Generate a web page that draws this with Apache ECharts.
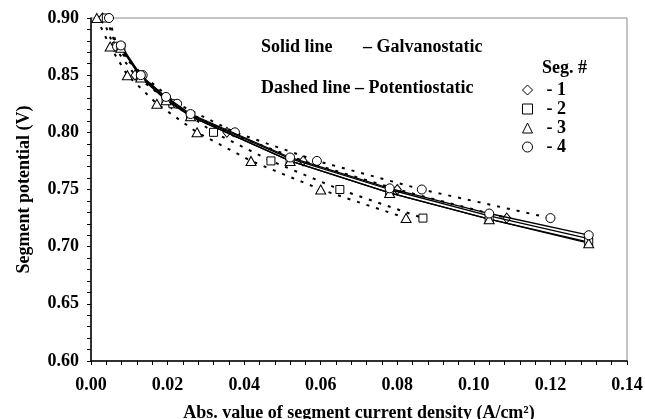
<!DOCTYPE html>
<html>
<head>
<meta charset="utf-8">
<script src="https://cdn.jsdelivr.net/npm/echarts@6/dist/echarts.min.js"></script>
<style>
  html, body { margin: 0; padding: 0; background: #fff; }
  #chart { width: 645px; height: 419px; }
</style>
</head>
<body>
<div id="chart"></div>
<script>
// galvanostatic runs (solid lines): fixed current, measured potential
var galvCurrent = [0.0078, 0.013, 0.0196, 0.026, 0.052, 0.078, 0.104, 0.130];
var galvSeg1 = [0.875, 0.849, 0.830, 0.815, 0.777, 0.750, 0.727, 0.707];
var galvSeg2 = [0.875, 0.848, 0.829, 0.814, 0.775, 0.747, 0.724, 0.704];
var galvSeg3 = [0.874, 0.848, 0.828, 0.814, 0.775, 0.747, 0.724, 0.703];
var galvSeg4 = [0.876, 0.850, 0.831, 0.816, 0.778, 0.751, 0.729, 0.710];

// potentiostatic runs (dashed lines): fixed potential, measured current
var potPotential = [0.900, 0.875, 0.850, 0.825, 0.800, 0.775, 0.750, 0.725];
var potSeg1 = [0.0030, 0.0060, 0.0115, 0.0210, 0.0355, 0.0554, 0.0800, 0.1086];
var potSeg2 = [0.0040, 0.0066, 0.0130, 0.0214, 0.0320, 0.0470, 0.0650, 0.0867];
var potSeg3 = [0.0015, 0.0050, 0.0095, 0.0172, 0.0277, 0.0418, 0.0600, 0.0823];
var potSeg4 = [0.0047, 0.0068, 0.0135, 0.0225, 0.0376, 0.0590, 0.0864, 0.1200];

var segNames = ['- 1', '- 2', '- 3', '- 4'];
var segSymbols = ['diamond', 'rect', 'triangle', 'circle'];
var segSizes = [[8, 10], 8, [10, 9], 9];

var FONT = 'Liberation Serif';

function pairs(xs, ys) {
	var res = [];
	for (var i = 0; i < xs.length; i++) res.push([xs[i], ys[i]]);
	return res;
}

var galvData = [galvSeg1, galvSeg2, galvSeg3, galvSeg4];
var potData = [potSeg1, potSeg2, potSeg3, potSeg4];

var series = [];
for (var s = 0; s < 4; s++) {
	// dashed: potentiostatic
	series.push({
		name: segNames[s],
		type: 'line',
		data: pairs(potData[s], potPotential),
		symbol: segSymbols[s],
		symbolSize: segSizes[s],
		clip: false,
		lineStyle: { color: '#000', width: 2, type: [3, 7] },
		itemStyle: { color: '#fff', borderColor: '#000', borderWidth: 1 },
		z: 2
	});
	// solid: galvanostatic
	series.push({
		name: segNames[s],
		type: 'line',
		data: pairs(galvCurrent, galvData[s]),
		symbol: segSymbols[s],
		symbolSize: segSizes[s],
		clip: false,
		lineStyle: { color: '#000', width: 1.3 },
		itemStyle: { color: '#fff', borderColor: '#000', borderWidth: 1 },
		z: 3
	});
}

var chart = echarts.init(document.getElementById('chart'));
var option = {
	animation: false,
	backgroundColor: '#fff',
	grid: {
		left: 91, top: 18, right: 18, bottom: 58,
		outerBoundsMode: 'none',
		show: true, borderColor: '#888', borderWidth: 1
	},
	xAxis: {
		type: 'value',
		min: 0, max: 0.14, interval: 0.02,
		name: 'Abs. value of segment current density (A/cm²)',
		nameLocation: 'middle',
		nameGap: 43,
		nameTextStyle: { fontFamily: FONT, fontWeight: 'bold', fontSize: 18, color: '#000' },
		axisLine: { lineStyle: { color: '#000', width: 1.5 } },
		axisTick: { length: 4, lineStyle: { color: '#000' } },
		minorTick: { show: true, splitNumber: 5, length: 4, lineStyle: { color: '#000' } },
		splitLine: { show: false },
		axisLabel: {
			margin: 15,
			fontFamily: FONT, fontWeight: 'bold', fontSize: 18, color: '#000',
			formatter: function (v) { return v.toFixed(2); }
		}
	},
	yAxis: {
		type: 'value',
		min: 0.6, max: 0.9, interval: 0.05,
		name: 'Segment potential (V)',
		nameLocation: 'middle',
		nameGap: 58,
		nameTextStyle: { fontFamily: FONT, fontWeight: 'bold', fontSize: 18, color: '#000' },
		axisLine: { lineStyle: { color: '#000', width: 1.5 } },
		axisTick: { length: 4, lineStyle: { color: '#000' } },
		minorTick: { show: true, splitNumber: 5, length: 4, lineStyle: { color: '#000' } },
		splitLine: { show: false },
		axisLabel: {
			margin: 12,
			fontFamily: FONT, fontWeight: 'bold', fontSize: 18, color: '#000',
			formatter: function (v) { return v.toFixed(2); }
		}
	},
	legend: {
		orient: 'vertical',
		left: 517, top: 76,
		itemWidth: 10, itemHeight: 10, itemGap: 1,
		data: segNames.map(function (n, i) { return { name: n, icon: segSymbols[i] }; }),
		itemStyle: { color: '#fff', borderColor: '#000', borderWidth: 1 },
		formatter: function (n) { return '  ' + n; },
		textStyle: { fontFamily: FONT, fontWeight: 'bold', fontSize: 18, color: '#000' },
		selectedMode: false
	},
	graphic: [
		{ type: 'text', left: 261, top: 38, style: { text: 'Solid line', font: 'bold 18px "Liberation Serif"', fill: '#000' } },
		{ type: 'text', left: 363, top: 38, style: { text: '– Galvanostatic', font: 'bold 18px "Liberation Serif"', fill: '#000' } },
		{ type: 'text', left: 261, top: 79, style: { text: 'Dashed line – Potentiostatic', font: 'bold 18px "Liberation Serif"', fill: '#000' } },
		{ type: 'text', left: 542, top: 59, style: { text: 'Seg. #', font: 'bold 18px "Liberation Serif"', fill: '#000' } }
	],
	series: series
};
chart.setOption(option);
</script>
</body>
</html>
